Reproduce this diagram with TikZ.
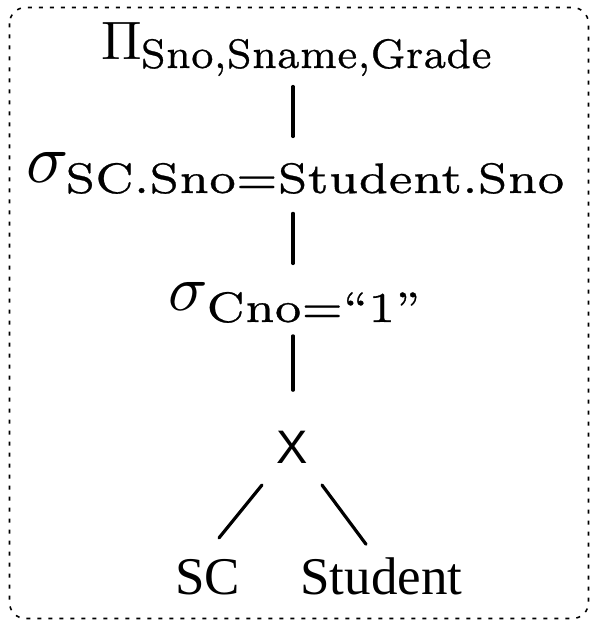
\documentclass[tikz,border=0pt]{standalone}
\usepackage[no-math]{fontspec}
\usepackage{graphicx}
\usetikzlibrary{calc}
\newfontfamily\timesf{Liberation Serif}
\newfontfamily\arialf{Liberation Sans}
\newfontfamily\lmseven{lmroman7-regular.otf}[FakeBold=0.6]
\newcommand{\mysub}[4]{\raisebox{-#1}{\resizebox{#2}{#3}{\lmseven\fontsize{7}{8.4}\selectfont #4}}}
\tikzset{
  lbl/.style={inner sep=0pt, outer sep=0pt, anchor=base west},
  leaf/.style={inner sep=0pt, outer sep=0pt, anchor=base, font=\timesf\fontsize{53}{60}\selectfont},
  crossnode/.style={inner sep=0pt, outer sep=0pt, anchor=base, font=\arialf\fontsize{47}{54}\selectfont},
  edge/.style={line width=3.2pt, line cap=round},
  frame/.style={line width=1.6pt, dash pattern=on 4pt off 7pt, rounded corners=16pt}
}
\begin{document}
\begin{tikzpicture}[x=1pt,y=-1pt]
\path[use as bounding box] (0,0) rectangle (590,620);
\draw[frame] (9.5,7.5) rectangle (588.5,618.5);

\node[lbl] (pi) at (101,60) {\resizebox{!}{37pt}{$\Pi$}\hspace{-1pt}\mysub{8pt}{351pt}{29pt}{Sno,Sname,Grade}};
\node[lbl] (sig1) at (26,183) {\resizebox{!}{30pt}{$\sigma$}\hspace{-3pt}\mysub{10pt}{499pt}{30pt}{SC.Sno=Student.Sno}};
\node[lbl] (sig2) at (168,310) {\resizebox{!}{28pt}{$\sigma$}\hspace{-1pt}\mysub{12pt}{214pt}{30pt}{Cno=“1”}};
\node[crossnode] (cross) at (292.5,463) {X};
\node[leaf] (sc) at (207.5,594) {SC};
\node[leaf] (student) at (381.5,594) {Student};

\coordinate (axis) at (293,0);
\draw[edge, shorten <=10.5pt, shorten >=16.5pt] (pi.south -| axis) -- (sig1.north -| axis);
\draw[edge, shorten <=19.5pt, shorten >=18.5pt] (sig1.south -| axis) -- (sig2.north -| axis);
\draw[edge, shorten <=13pt, shorten >=40.5pt] (sig2.south -| axis) -- (cross.north -| axis);
\draw[edge] ($(cross.south)+(-30.5,22)$) -- ($(sc.north)+(11.5,-21)$);
\draw[edge] ($(cross.south)+(29.5,22)$) -- ($(student.north)+(-15.5,-13)$);
\end{tikzpicture}
\end{document}
